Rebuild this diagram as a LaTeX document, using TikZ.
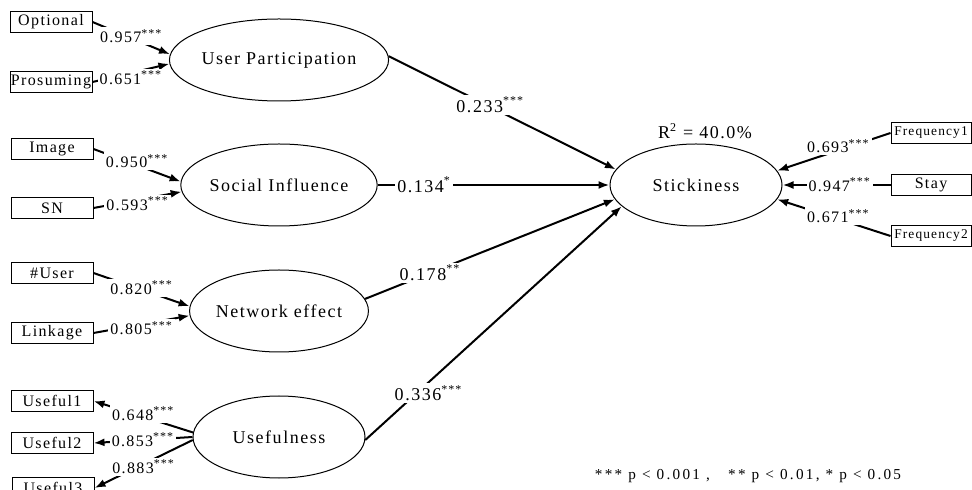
\documentclass[tikz,border=0pt]{standalone}
\usepackage{fontspec}
\setmainfont{Liberation Serif}
\newfontfamily\spaced[LetterSpace=8.5]{Liberation Serif}
\newfontfamily\widespaced[LetterSpace=15]{Liberation Serif}
\usetikzlibrary{arrows.meta, shapes.geometric, positioning}

\begin{document}
\begin{tikzpicture}[x=0.5pt, y=-0.5pt, >={Latex[length=5.5pt, width=4pt]},
  latent/.style={draw, ellipse, line width=0.5pt, minimum width=86pt,
        minimum height=41pt, inner sep=0pt, font=\spaced\fontsize{9}{11}\selectfont},
  indicator/.style={draw, rectangle, line width=0.5pt, minimum width=41pt,
        minimum height=10.5pt, inner sep=0pt, font=\spaced\fontsize{8}{9}\selectfont},
  small indicator/.style={indicator, minimum width=40pt, font=\spaced\fontsize{6.7}{8}\selectfont},
  loading/.style={fill=white, inner sep=1pt, font=\spaced\fontsize{8}{9}\selectfont},
  coef/.style={fill=white, inner sep=1pt, font=\spaced\fontsize{9}{11}\selectfont},
  conn/.style={line width=1pt}]

  \useasboundingbox (0,0) rectangle (972,490);
  \clip (0,0) rectangle (972,490);

  \node[latent] (up) at (279,60) {User Participation};
  \node[latent] (si) at (279,185) {Social Influence};
  \node[latent] (ne) at (279,311) {Network effect};
  \node[latent] (useful) at (279,437) {Usefulness};
  \node[latent] (stick) at (696,185) {Stickiness};
  \node[coef, fill=none, inner sep=0pt, above=2pt of stick, xshift=4.5pt] (rsq)
        {R\textsuperscript{2} = 40.0\%};

  \node[indicator] (opt) at (51,22) {Optional};
  \node[indicator] (pros) at (51,82) {Prosuming};
  \node[indicator] (img) at (52,149) {Image};
  \node[indicator] (sn) at (52,208) {SN};
  \node[indicator] (nuser) at (52,273) {\#User};
  \node[indicator] (linkage) at (52,333) {Linkage};
  \node[indicator] (uf1) at (52,401) {Useful1};
  \node[indicator] (uf2) at (52,443) {Useful2};
  \node[indicator] (uf3) at (53,488) {Useful3};

  \node[small indicator] (freq1) at (931,133) {Frequency1};
  \node[indicator, minimum width=40pt] (stay) at (931,185) {Stay};
  \node[small indicator] (freq2) at (931,236) {Frequency2};

  \draw[conn, ->] (opt.east) -- node[loading, yshift=1pt] {0.957\textsuperscript{***}} (up.177);
  \draw[conn, ->] (pros.east) -- node[loading, yshift=-2.5pt] {0.651\textsuperscript{***}} (up.182);
  \draw[conn, ->] (img.east) -- node[loading, yshift=2pt] {0.950\textsuperscript{***}} (si.178);
  \draw[conn, ->] (sn.east) -- node[loading, yshift=-2pt] {0.593\textsuperscript{***}} (si.184);
  \draw[conn, ->] (nuser.east) -- node[loading, yshift=1pt] {0.820\textsuperscript{***}} (ne.177);
  \draw[conn, ->] (linkage.east) -- node[loading, yshift=-2pt] {0.805\textsuperscript{***}} (ne.183);
  \draw[conn, ->] (useful.177) -- node[loading, yshift=1.5pt] {0.648\textsuperscript{***}} (uf1.east);
  \draw[conn, ->] (useful.180) -- node[loading] {0.853\textsuperscript{***}} (uf2.east);
  \draw[conn, ->] (useful.182) -- node[loading, yshift=-1.5pt] {0.883\textsuperscript{***}} (uf3.east);

  \draw[conn, ->] (up.2) -- node[coef, pos=0.43, xshift=2pt] {0.233\textsuperscript{***}} (stick.169);
  \draw[conn, ->] (si.east) -- node[coef, pos=0.2] {0.134\textsuperscript{*}} (stick.west);
  \draw[conn, ->] (ne.8) -- node[coef, pos=0.26] {0.178\textsuperscript{**}} (stick.190);
  \draw[conn, ->] (useful.-2) -- node[coef, pos=0.2, xshift=6pt] {0.336\textsuperscript{***}} (stick.196);

  \draw[conn, ->] (freq1.west) -- node[loading, pos=0.46, yshift=2pt] {0.693\textsuperscript{***}} (stick.10);
  \draw[conn, ->] (stay.west) -- node[loading, pos=0.47] {0.947\textsuperscript{***}} (stick.east);
  \draw[conn, ->] (freq2.west) -- node[loading, pos=0.46, yshift=1.5pt] {0.671\textsuperscript{***}} (stick.-10);

  \node[font=\widespaced\fontsize{7.6}{9}\selectfont] (note) at (748,476)
        {*** p < 0.001 ,\ \ \ ** p < 0.01, * p < 0.05};
\end{tikzpicture}
\end{document}
